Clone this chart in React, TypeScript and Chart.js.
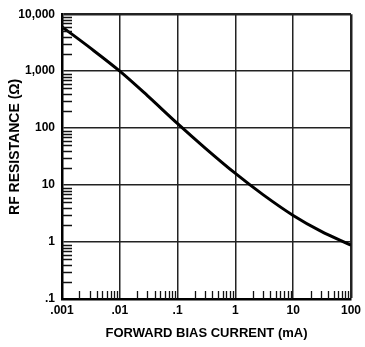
import React, { useEffect, useRef } from "react";
import { Chart, registerables } from "chart.js";

Chart.register(...registerables);

// Forward bias current (mA) vs RF resistance (Ω)
const currentMA = [0.001, 0.003, 0.01, 0.03, 0.1, 0.3, 1, 3, 10, 30, 100];
const resistanceOhm = [6000, 2610, 1000, 372, 120, 44.7, 16, 6.8, 2.93, 1.55, 0.88];

const xTickValues = [0.001, 0.01, 0.1, 1, 10, 100];
const xTickLabels = [".001", ".01", ".1", "1", "10", "100"];
const yTickValues = [0.1, 1, 10, 100, 1000, 10000];
const yTickLabels = [".1", "1", "10", "100", "1,000", "10,000"];
const minorMultipliers = [2, 3, 4, 5, 6, 7, 8, 9];

const FONT = "'Liberation Sans', Arial, sans-serif";

const minorTicksPlugin = {
  id: "minorTicks",
  afterDraw(chart: any) {
    const { ctx, chartArea } = chart;
    const xs = chart.scales.x;
    const ys = chart.scales.y;
    ctx.save();
    ctx.strokeStyle = "#111";
    ctx.lineWidth = 1.3;
    ctx.beginPath();
    for (let i = 0; i < xTickValues.length - 1; i++) {
      for (const m of minorMultipliers) {
        const px = Math.round(xs.getPixelForValue(xTickValues[i] * m)) + 0.5;
        ctx.moveTo(px, chartArea.bottom);
        ctx.lineTo(px, chartArea.bottom - 8);
      }
    }
    for (let i = 0; i < yTickValues.length - 1; i++) {
      for (const m of minorMultipliers) {
        const py = Math.round(ys.getPixelForValue(yTickValues[i] * m)) + 0.5;
        ctx.moveTo(chartArea.left, py);
        ctx.lineTo(chartArea.left + 10, py);
      }
    }
    ctx.stroke();
    ctx.restore();
  },
};

export default function App() {
  const canvasRef = useRef<HTMLCanvasElement | null>(null);

  useEffect(() => {
    if (!canvasRef.current) return;
    const chart = new Chart(canvasRef.current, {
      type: "line",
      data: {
        datasets: [
          {
            data: currentMA.map((x, i) => ({ x, y: resistanceOhm[i] })),
            borderColor: "#000",
            borderWidth: 3,
            pointRadius: 0,
            cubicInterpolationMode: "monotone",
            fill: false,
          },
        ],
      },
      options: {
        animation: false,
        responsive: false,
        maintainAspectRatio: false,
        layout: { padding: { top: 11, right: 12, left: 0, bottom: 0 } },
        plugins: { legend: { display: false }, tooltip: { enabled: false } },
        scales: {
          x: {
            type: "logarithmic",
            min: 0.001,
            max: 100,
            afterBuildTicks: (s: any) => {
              s.ticks = xTickValues.map((v) => ({ value: v }));
            },
            afterFit: (s: any) => {
              s.height = 48;
            },
            ticks: {
              autoSkip: false,
              maxRotation: 0,
              padding: 4,
              color: "#000",
              font: { family: FONT, size: 12, weight: "bold" },
              callback: (v: any, i: number) => xTickLabels[i],
            },
            grid: {
              drawTicks: false,
              color: "#222",
              lineWidth: (c: any) => (c.index === xTickValues.length - 1 ? 2.5 : 1.5),
            },
            border: { display: true, color: "#000", width: 2.5 },
            title: {
              display: true,
              text: "FORWARD BIAS CURRENT (mA)",
              color: "#000",
              font: { family: FONT, size: 13, weight: "bold" },
              padding: { top: 0, bottom: 6 },
            },
          },
          y: {
            type: "logarithmic",
            min: 0.1,
            max: 10000,
            afterBuildTicks: (s: any) => {
              s.ticks = yTickValues.map((v) => ({ value: v }));
            },
            afterFit: (s: any) => {
              s.width = 62;
            },
            ticks: {
              autoSkip: false,
              padding: 7,
              color: "#000",
              font: { family: FONT, size: 12, weight: "bold" },
              callback: (v: any, i: number) => yTickLabels[i],
            },
            grid: {
              drawTicks: false,
              color: "#222",
              lineWidth: (c: any) => (c.index === yTickValues.length - 1 ? 2.5 : 1.5),
            },
            border: { display: true, color: "#000", width: 2.5 },
            title: {
              display: true,
              text: "     RF RESISTANCE (Ω)",
              color: "#000",
              font: { family: FONT, size: 14, weight: "bold" },
              padding: { top: 7, bottom: 0 },
            },
          },
        },
      },
      plugins: [minorTicksPlugin],
    } as any);
    return () => chart.destroy();
  }, []);

  return (
    <div style={{ position: "absolute", left: 0, top: 0, width: 365, height: 347, background: "#fff" }}>
      <canvas ref={canvasRef} width={365} height={347} />
    </div>
  );
}
